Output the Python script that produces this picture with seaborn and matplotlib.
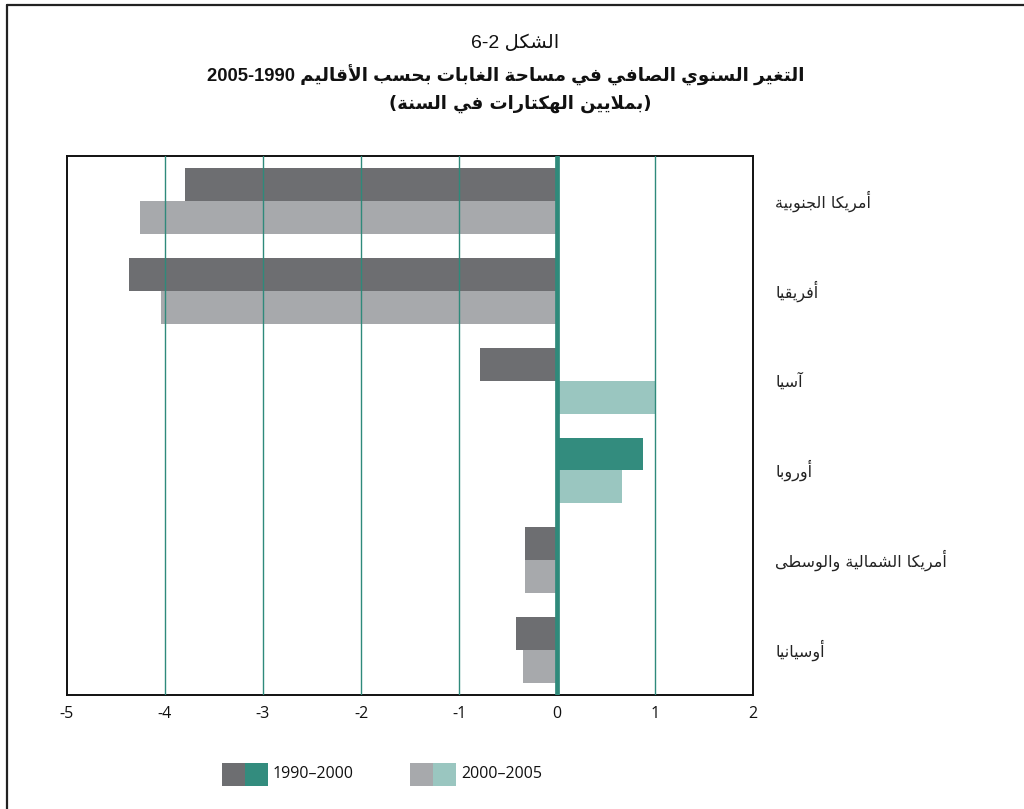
#!/usr/bin/env python3
"""
Net annual change in forest area by region, 1990-2005 (FAO)
Arabic labels are shaped by hand (presentation forms + visual order).
"""

import pandas as pd
import numpy as np
import matplotlib
matplotlib.use("Agg")
import matplotlib.pyplot as plt
import seaborn as sns
from matplotlib.patches import Rectangle
from matplotlib.lines import Line2D

# data (million ha / year)
regions = ['أمريكا الجنوبية', 'أفريقيا', 'آسيا', 'أوروبا',
           'أمريكا الشمالية والوسطى', 'أوسيانيا']
change_1990_2000 = [-3.80, -4.37, -0.79, 0.88, -0.33, -0.42]
change_2000_2005 = [-4.25, -4.04, 1.00, 0.66, -0.33, -0.35]
periods = ['1990–2000', '2000–2005']
x_ticks = [-5, -4, -3, -2, -1, 0, 1, 2]

title_fig = 'الشكل'
title_fig_no = '6-2'
title_main = 'التغير السنوي الصافي في مساحة الغابات بحسب الأقاليم'
title_years = '2005-1990'
title_unit = '(بملايين الهكتارات في السنة)'

# colours: (negative, positive) per period
colors = {
    '1990–2000': ('#6d6e71', '#338c7e'),
    '2000–2005': ('#a7a9ac', '#9ac6c0'),
}
teal = '#2f8a7b'

# ---- Arabic shaping (no arabic_reshaper available) ----
# letter -> (first presentation form, dual joining?)
AR = {
    'ء': (0xFE80, None), 'آ': (0xFE81, False), 'أ': (0xFE83, False),
    'ؤ': (0xFE85, False), 'إ': (0xFE87, False), 'ئ': (0xFE89, True),
    'ا': (0xFE8D, False), 'ب': (0xFE8F, True), 'ة': (0xFE93, False),
    'ت': (0xFE95, True), 'ث': (0xFE99, True), 'ج': (0xFE9D, True),
    'ح': (0xFEA1, True), 'خ': (0xFEA5, True), 'د': (0xFEA9, False),
    'ذ': (0xFEAB, False), 'ر': (0xFEAD, False), 'ز': (0xFEAF, False),
    'س': (0xFEB1, True), 'ش': (0xFEB5, True), 'ص': (0xFEB9, True),
    'ض': (0xFEBD, True), 'ط': (0xFEC1, True), 'ظ': (0xFEC5, True),
    'ع': (0xFEC9, True), 'غ': (0xFECD, True), 'ف': (0xFED1, True),
    'ق': (0xFED5, True), 'ك': (0xFED9, True), 'ل': (0xFEDD, True),
    'م': (0xFEE1, True), 'ن': (0xFEE5, True), 'ه': (0xFEE9, True),
    'و': (0xFEED, False), 'ى': (0xFEEF, False), 'ي': (0xFEF1, True),
}
LAM_ALEF = {'ا': 0xFEFB, 'أ': 0xFEF7, 'إ': 0xFEF9, 'آ': 0xFEF5}


def is_dual(c):
    return isinstance(c, str) and c in AR and AR[c][1] is True


def joins_prev(c):
    if isinstance(c, tuple):
        return True
    return c in AR and AR[c][1] is not None


def shape(text):
    chars = []
    i = 0
    while i < len(text):
        if text[i] == 'ل' and i + 1 < len(text) and text[i + 1] in LAM_ALEF:
            chars.append(('LA', text[i + 1]))
            i += 2
        else:
            chars.append(text[i])
            i += 1
    out = []
    for k, c in enumerate(chars):
        prev = chars[k - 1] if k > 0 else None
        nxt = chars[k + 1] if k + 1 < len(chars) else None
        if isinstance(c, tuple):
            out.append(chr(LAM_ALEF[c[1]] + (1 if is_dual(prev) else 0)))
            continue
        if c not in AR:
            out.append(c)
            continue
        base, dual = AR[c]
        if dual is None:
            out.append(chr(base))
            continue
        p = is_dual(prev)
        n = dual and nxt is not None and joins_prev(nxt)
        form = 3 if (p and n) else 2 if n else 1 if p else 0
        out.append(chr(base + form))
    return ''.join(out)


def rtl(text):
    """shape + reverse to visual order, mirror brackets"""
    vis = shape(text)[::-1]
    return vis.translate(str.maketrans('()', ')('))


# ---- plot ----
sns.set_theme(style='white')
plt.rcParams['font.family'] = ['Open Sans', 'DejaVu Sans']
plt.rcParams['axes.unicode_minus'] = False

df = pd.DataFrame({
    'region': regions * 2,
    'period': [periods[0]] * len(regions) + [periods[1]] * len(regions),
    'value': change_1990_2000 + change_2000_2005,
})

fig = plt.figure(figsize=(10.24, 8.09), dpi=100)
ax = fig.add_axes([0.0654, 0.141, 0.670, 0.666])

sns.barplot(data=df, y='region', x='value', hue='period', order=regions,
            hue_order=periods, orient='h', width=0.733, ax=ax,
            legend=False, saturation=1, errorbar=None, zorder=2)

# recolour bars by sign
for cont, per in zip(ax.containers, periods):
    neg, pos = colors[per]
    for bar in cont:
        bar.set_facecolor(neg if bar.get_width() < 0 else pos)
        bar.set_edgecolor('none')
        bar.set_linewidth(0)

ax.set_xlim(-5, 2)
ax.set_xticks(x_ticks)
ax.set_xticklabels([str(t) for t in x_ticks], fontsize=11.5, color='#111111')
for t in x_ticks[1:-1]:
    if t != 0:
        ax.axvline(t, color=teal, lw=1.0, zorder=3)
ax.axvline(0, color=teal, lw=3.4, zorder=4)

ax.yaxis.tick_right()
ax.set_yticks(range(len(regions)))
ax.set_yticklabels([rtl(r) for r in regions], fontsize=11.5,
                   family='DejaVu Sans', color='#222222', va='center')
ax.tick_params(axis='y', length=0, pad=16)
ax.tick_params(axis='x', length=0, pad=8)
ax.set_xlabel('')
ax.set_ylabel('')
for sp in ax.spines.values():
    sp.set_color('#111111')
    sp.set_linewidth(1.4)

# titles (DejaVu Sans has no bold-italic Arabic, so the unit line is upright)
fig.text(0.503, 0.947, title_fig_no + ' ' + rtl(title_fig), ha='center', va='center',
         fontsize=14, color='#111111', family=['Liberation Sans', 'DejaVu Sans'])
fig.text(0.494, 0.907, title_years + ' ' + rtl(title_main), ha='center', va='center',
         fontsize=13.2, fontweight='bold', color='#111111',
         family=['Liberation Sans', 'DejaVu Sans'])
fig.text(0.508, 0.872, rtl(title_unit), ha='center', va='center',
         fontsize=13, fontweight='bold', color='#111111',
         family=['DejaVu Sans'])

# legend (two-tone swatches)
sw_w, sw_h = 23 / 1024, 23 / 809
y0 = 1 - 786 / 809
for x0, per in [(222 / 1024, periods[0]), (410 / 1024, periods[1])]:
    neg, pos = colors[per]
    fig.patches.append(Rectangle((x0, y0), sw_w, sw_h, facecolor=neg,
                                 edgecolor='none', transform=fig.transFigure))
    fig.patches.append(Rectangle((x0 + sw_w, y0), sw_w, sw_h, facecolor=pos,
                                 edgecolor='none', transform=fig.transFigure))
    fig.text(x0 + 2 * sw_w + 5 / 1024, y0 + sw_h / 2, per, ha='left',
             va='center', fontsize=11.5, color='#111111')

# outer frame (top and left only)
fx, fy = 7 / 1024, 1 - 5 / 809
fig.lines.append(Line2D([fx, fx], [0, fy], color='#222222', lw=1.6,
                        transform=fig.transFigure))
fig.lines.append(Line2D([fx, 1], [fy, fy], color='#222222', lw=1.6,
                        transform=fig.transFigure))

plt.savefig('out.png', dpi=100)
plt.close()
